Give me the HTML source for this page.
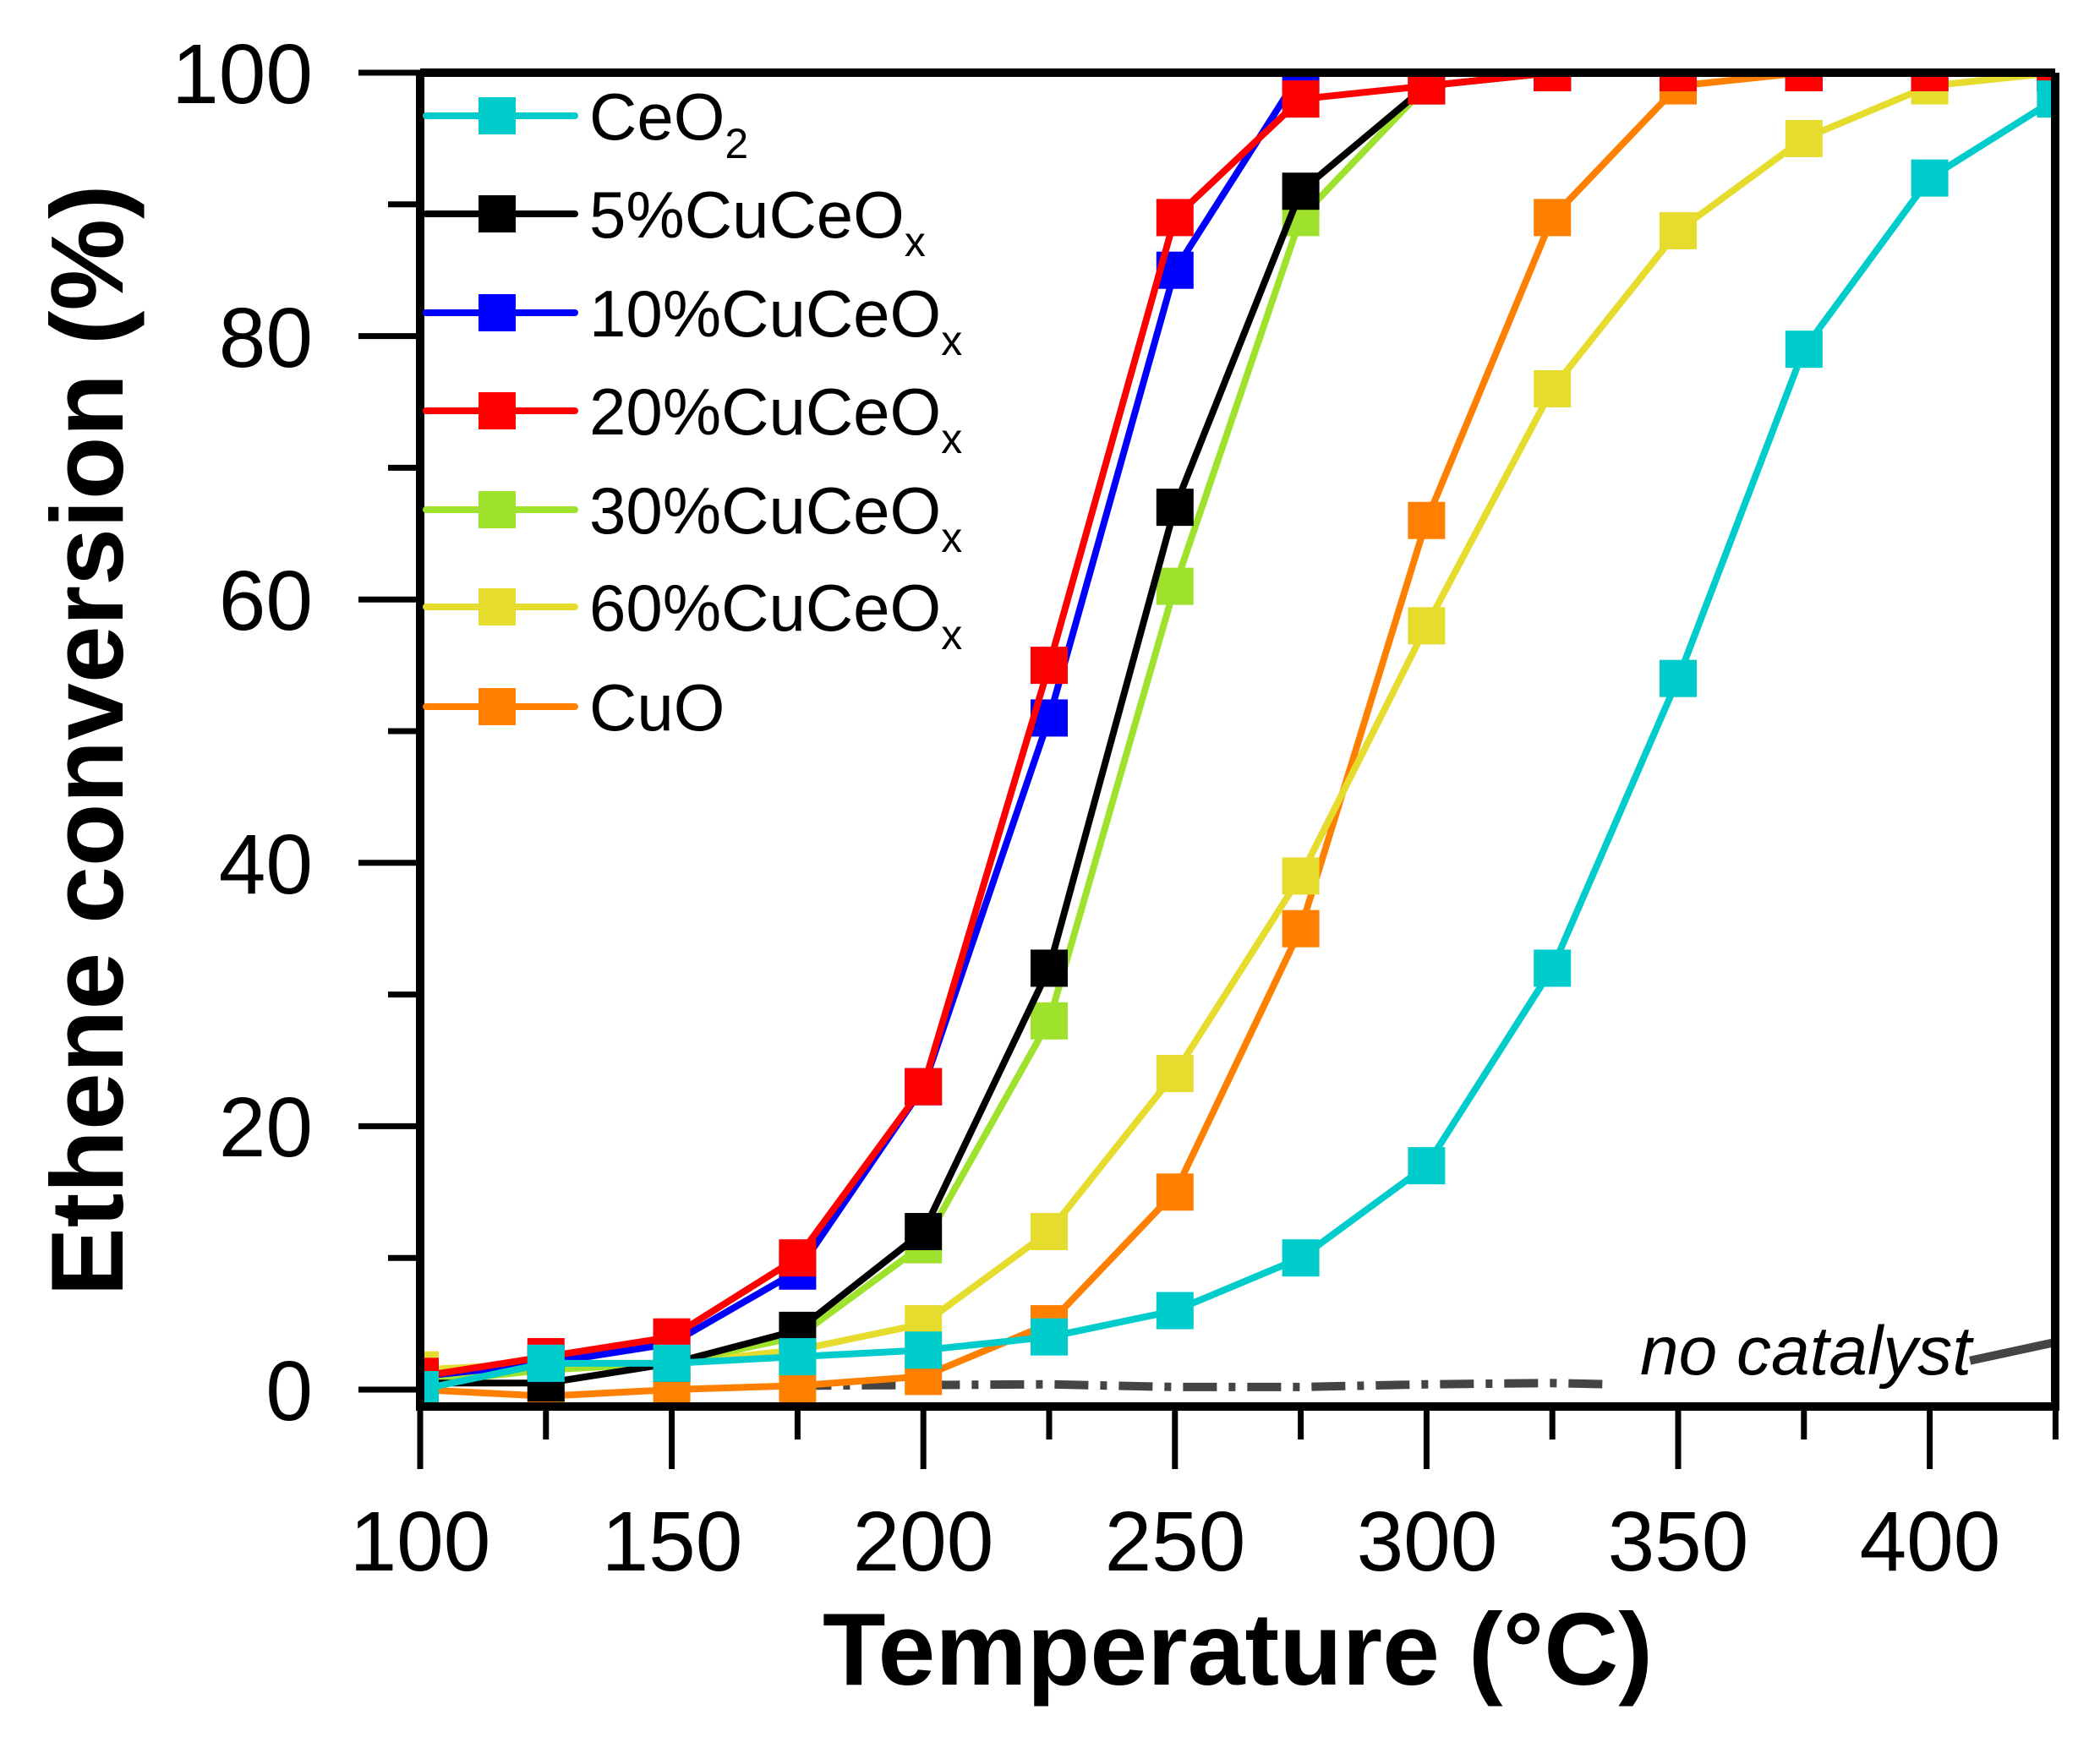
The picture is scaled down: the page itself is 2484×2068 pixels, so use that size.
<!DOCTYPE html>
<html><head><meta charset="utf-8"><style>
html,body{margin:0;padding:0;background:#fff;}
svg{display:block;font-family:"Liberation Sans",Arial,sans-serif;}
</style></head><body>
<svg id="s" width="2484" height="2068" viewBox="0 0 2484 2068" xmlns="http://www.w3.org/2000/svg">
<defs><clipPath id="c"><rect x="497" y="86" width="1934" height="1578"/></clipPath></defs>
<g id="data" clip-path="url(#c)"></g>
<g stroke="#000" stroke-width="10" fill="none">
<line x1="497" y1="86" x2="2431" y2="86"/>
<line x1="497" y1="86" x2="497" y2="1668"/>
<line x1="2431" y1="86" x2="2431" y2="1668"/>
<line x1="492" y1="1664" x2="2436" y2="1664"/>
</g>
<g id="ticks" stroke="#000" stroke-width="7"></g>
<g font-size="100" text-anchor="end" fill="#000">
<text x="370" y="122">100</text>
<text x="370" y="434">80</text>
<text x="370" y="745">60</text>
<text x="370" y="1057">40</text>
<text x="370" y="1368">20</text>
<text x="370" y="1680">0</text>
</g>
<g font-size="100" text-anchor="middle" fill="#000">
<text x="497" y="1858">100</text>
<text x="795" y="1858">150</text>
<text x="1092" y="1858">200</text>
<text x="1390" y="1858">250</text>
<text x="1688" y="1858">300</text>
<text x="1985" y="1858">350</text>
<text x="2283" y="1858">400</text>
</g>
<text x="1464" y="1993" font-size="122" font-weight="bold" text-anchor="middle">Temperature (°C)</text>
<text transform="translate(145,876) rotate(-90)" font-size="122" font-weight="bold" text-anchor="middle">Ethene conversion (%)</text>
<text x="1940" y="1626" font-size="82" font-style="italic">no catalyst</text>
<g id="legend"></g>
<g font-size="78" fill="#000">
<text x="697" y="165">CeO<tspan font-size="50" dy="22">2</tspan></text>
<text x="697" y="281">5%CuCeO<tspan font-size="50" dy="22">x</tspan></text>
<text x="697" y="398">10%CuCeO<tspan font-size="50" dy="22">x</tspan></text>
<text x="697" y="514">20%CuCeO<tspan font-size="50" dy="22">x</tspan></text>
<text x="697" y="631">30%CuCeO<tspan font-size="50" dy="22">x</tspan></text>
<text x="697" y="746">60%CuCeO<tspan font-size="50" dy="22">x</tspan></text>
<text x="697" y="864">CuO</text>
</g>
</svg>
<script>
var NS="http://www.w3.org/2000/svg";
function X(t){return 497+(t-100)*5.952;}
function Y(v){return 1644-v*15.58;}
function el(n,a,p){var e=document.createElementNS(NS,n);for(var k in a)e.setAttribute(k,a[k]);p.appendChild(e);return e;}
var tk=document.getElementById('ticks');
for(var v=0;v<=100;v+=10){var L=(v%20==0)?73:38;el('line',{x1:497-L,y1:Y(v),x2:497,y2:Y(v)},tk);}
for(var t=100;t<=425;t+=25){var L=(t%50==0)?74:39;el('line',{x1:X(t),y1:1664,x2:X(t),y2:1664+L},tk);}
var d=document.getElementById('data');
el('polyline',{points:[[X(175),Y(0.3)],[X(225),Y(0.4)],[X(250),Y(0.2)],[X(275),Y(0.2)],[X(300),Y(0.4)],[X(325),Y(0.5)],[X(337),Y(0.4)]].join(' '),fill:'none',stroke:'#444','stroke-width':10,'stroke-dasharray':'40 14 8 14'},d);
el('line',{x1:X(408),y1:Y(2.2),x2:X(425),y2:Y(3.6),stroke:'#444','stroke-width':10},d);
var T=[100,125,150,175,200,225,250,275,300,325,350,375,400,425];
var S=[
['#FF8000',[0,-0.5,0,0.3,1,5,15,35,66,89,99,100,100,100]],
['#E6DC2E',[1.5,2,2,3,5,12,24,39,58,76,88,95,99,100]],
['#9FE22E',[0.5,1.5,2,4,11,28,61,89,99,100,100,100,100,100]],
['#000000',[0.5,0.5,2,4.5,12,32,67,91,99,100,100,100,100,100]],
['#0000FF',[1,2,3.5,9,23,51,85,100,100,100,100,100,100,100]],
['#FF0000',[1,2.5,4,10,23,55,89,98,99,100,100,100,100,100]],
['#00CCCC',[0,2,2,2.5,3,4,6,10,17,32,54,79,92,98]]
];
S.forEach(function(s){
 var pts=T.map(function(t,i){return X(t)+','+Y(s[1][i]);}).join(' ');
 el('polyline',{points:pts,fill:'none',stroke:s[0],'stroke-width':8},d);
 T.forEach(function(t,i){el('rect',{x:X(t)-22,y:Y(s[1][i])-22,width:44,height:44,fill:s[0]},d);});
});
var lg=document.getElementById('legend');
var LC=['#00CCCC','#000000','#0000FF','#FF0000','#9FE22E','#E6DC2E','#FF8000'];
var LY=[137,253,370,486,603,718,836];
LC.forEach(function(c,i){
 el('line',{x1:504,y1:LY[i],x2:680,y2:LY[i],stroke:c,'stroke-width':8,'stroke-linecap':'round'},lg);
 el('rect',{x:566,y:LY[i]-22,width:44,height:44,fill:c},lg);
});
</script>
</body></html>
